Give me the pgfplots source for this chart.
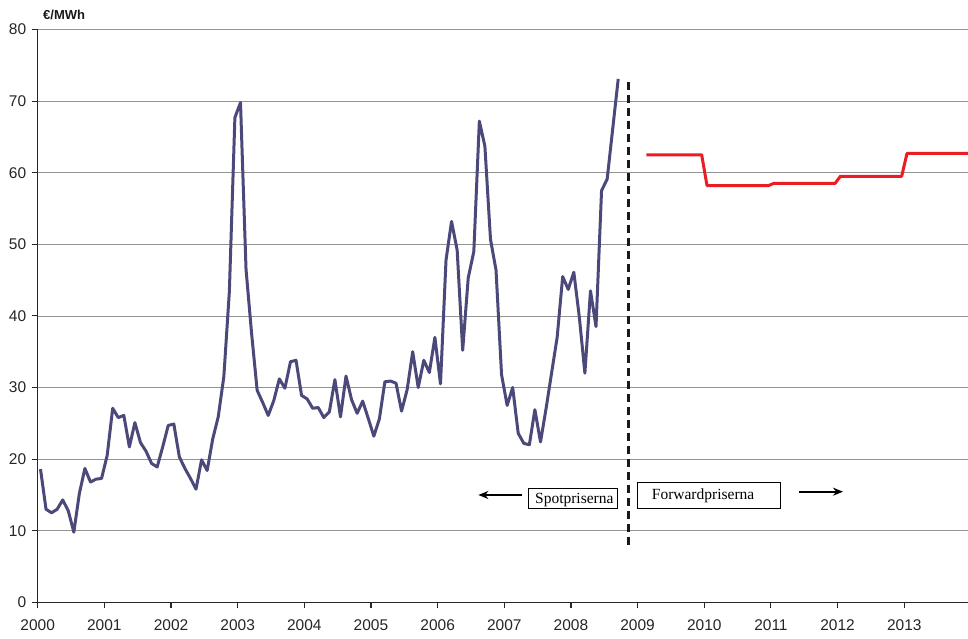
\documentclass[border=0pt]{standalone}
\usepackage{pgfplots}
\pgfplotsset{compat=1.18}
\usepackage{fontspec}
\setmainfont{Liberation Sans}
\newfontfamily\seriffont{Liberation Serif}
\usetikzlibrary{arrows.meta}
\definecolor{spot}{RGB}{75,73,122}
\definecolor{fwd}{RGB}{236,28,36}
\begin{document}
\begin{tikzpicture}
\path[use as bounding box] (-37.7pt,-35.7pt) rectangle (930.3pt,602.3pt);
\begin{axis}[name=ax, at={(0,0)}, anchor=south west,
  scale only axis, width=930.3pt, height=572.8pt,
  xmin=2000, xmax=2013.955, ymin=0, ymax=80,
  xtick={2000,...,2013}, ytick={0,10,...,80},
  axis x line=bottom, axis y line=left,
  axis line style={-, line width=1.1pt, black!85},
  tick style={black!85, line width=1.1pt},
  tick align=outside, major tick length=6pt,
  ymajorgrids, grid style={gray!85, line width=0.8pt},
  /pgf/number format/assume math mode=true,
  /pgf/number format/1000 sep={},
  ticklabel style={font=\fontsize{15.5}{18}\selectfont, text=black!85},
  xticklabel style={yshift=-8pt},
  yticklabel style={xshift=-2pt},
  clip=true]
\addplot[spot, line width=3pt, line join=round] coordinates {
(2000.042,18.6) (2000.125,13.0) (2000.208,12.5) (2000.292,13.0) (2000.375,14.3) (2000.458,12.8)
(2000.542,9.8) (2000.625,15.2) (2000.708,18.7) (2000.792,16.8) (2000.875,17.2) (2000.958,17.3)
(2001.042,20.5) (2001.125,27.1) (2001.208,25.8) (2001.292,26.1) (2001.375,21.7) (2001.458,25.1)
(2001.542,22.3) (2001.625,21.1) (2001.708,19.4) (2001.792,18.9) (2001.875,21.7) (2001.958,24.7)
(2002.042,24.9) (2002.125,20.3) (2002.208,18.7) (2002.292,17.3) (2002.375,15.8) (2002.458,19.9)
(2002.542,18.4) (2002.625,22.8) (2002.708,25.9) (2002.792,31.5) (2002.875,43.4) (2002.958,67.7)
(2003.042,69.8) (2003.125,46.5) (2003.208,37.6) (2003.292,29.6) (2003.375,27.9) (2003.458,26.1)
(2003.542,28.2) (2003.625,31.2) (2003.708,29.9) (2003.792,33.6) (2003.875,33.8) (2003.958,28.9)
(2004.042,28.4) (2004.125,27.1) (2004.208,27.2) (2004.292,25.8) (2004.375,26.6) (2004.458,31.1)
(2004.542,25.9) (2004.625,31.6) (2004.708,28.3) (2004.792,26.4) (2004.875,28.1) (2004.958,25.7)
(2005.042,23.2) (2005.125,25.6) (2005.208,30.8) (2005.292,30.9) (2005.375,30.6) (2005.458,26.7)
(2005.542,29.7) (2005.625,35.0) (2005.708,30.0) (2005.792,33.8) (2005.875,32.1) (2005.958,37.0)
(2006.042,30.5) (2006.125,47.8) (2006.208,53.2) (2006.292,49.2) (2006.375,35.2) (2006.458,45.3)
(2006.542,49.0) (2006.625,67.2) (2006.708,63.7) (2006.792,50.7) (2006.875,46.4) (2006.958,31.8)
(2007.042,27.5) (2007.125,30.0) (2007.208,23.6) (2007.292,22.2) (2007.375,22.0) (2007.458,26.9)
(2007.542,22.4) (2007.625,27.0) (2007.708,32.0) (2007.792,37.0) (2007.875,45.5) (2007.958,43.7)
(2008.042,46.1) (2008.125,39.8) (2008.208,32.0) (2008.292,43.5) (2008.375,38.5) (2008.458,57.5)
(2008.542,59.1) (2008.625,66.1) (2008.708,73.1)
};
\addplot[fwd, line width=3pt, line join=round] coordinates {
(2009.13,62.5) (2009.96,62.5) (2010.04,58.2) (2010.96,58.2) (2011.04,58.5) (2011.96,58.5)
(2012.04,59.5) (2012.96,59.5) (2013.04,62.7) (2013.955,62.7)
};
\draw[black!90, line width=2.4pt, dash pattern=on 8pt off 5pt] (axis cs:2008.864,72.7) -- (axis cs:2008.864,7.8);
\draw[black, line width=1.8pt, -{Stealth[length=10pt,width=8pt]}] (axis cs:2007.26,14.99) -- (axis cs:2006.61,14.99);
\draw[black, line width=1.8pt, -{Stealth[length=10pt,width=8pt]}] (axis cs:2011.42,15.45) -- (axis cs:2012.08,15.45);
\draw[black, line width=0.9pt, fill=white] (axis cs:2007.359,13.13) rectangle (axis cs:2008.700,15.92);
\draw[black, line width=0.9pt, fill=white] (axis cs:2009.000,13.13) rectangle (axis cs:2011.134,16.70);
\node[anchor=base west, inner sep=0pt, font=\seriffont\fontsize{15.5}{18}\selectfont] at (axis cs:2007.459,13.83) {Spotpriserna};
\node[anchor=base west, inner sep=0pt, font=\seriffont\fontsize{15.5}{18}\selectfont] at (axis cs:2009.210,14.39) {Forwardpriserna};
\end{axis}
\node[anchor=base west, inner sep=0pt, font=\bfseries\fontsize{13}{15}\selectfont, text=black!90] at ([xshift=5.3pt, yshift=10.5pt]ax.north west) {€/MWh};
\end{tikzpicture}
\end{document}
